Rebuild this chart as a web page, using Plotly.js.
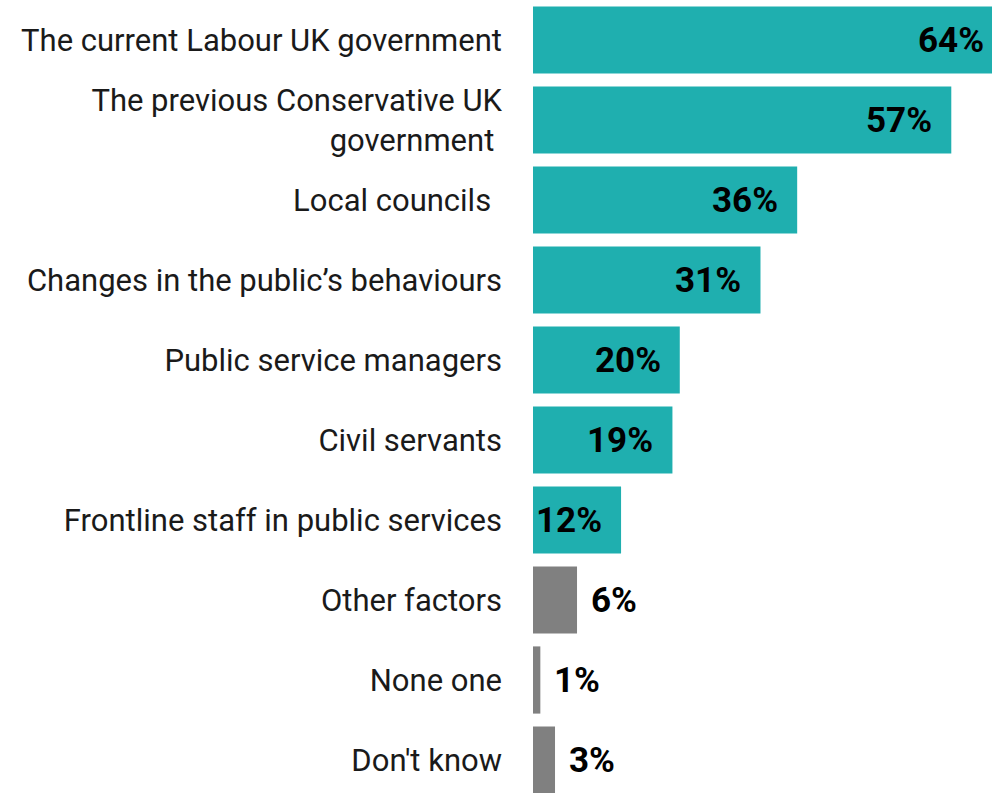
<!DOCTYPE html>
<html>
<head>
<meta charset="utf-8">
<script src="https://cdn.plot.ly/plotly-3.0.1.min.js"></script>
<style>
html,body{margin:0;padding:0;overflow:hidden;background:#fff;}
#chart{width:1010px;height:793px;}
</style>
</head>
<body>
<div id="chart"></div>
<script>
const categories = [
  "The current Labour UK government",
  "The previous Conservative UK<br>government\u00a0",
  "Local councils\u00a0\u200a",
  "Changes in the public\u2019s behaviours",
  "Public service managers",
  "Civil servants",
  "Frontline staff in public services",
  "Other factors",
  "None one",
  "Don't know"
];
const values = [64, 57, 36, 31, 20, 19, 12, 6, 1, 3];
const valueLabels = ["64%", "57%", "36%", "31%", "20%", "19%", "12%", "6%", "1%", "3%"];
const groups = ["main","main","main","main","main","main","main","other","other","other"];

const TEAL = "#1FAFAF";
const GREY = "#808080";
const colors = groups.map(g => g === "main" ? TEAL : GREY);

const trace = {
  type: "bar",
  orientation: "h",
  y: categories,
  x: values,
  marker: {color: colors, line: {width: 0}},
  hoverinfo: "skip"
};

const annotations = values.map((v, i) => {
  const inside = groups[i] === "main";
  return {
    x: v, y: categories[i], xref: "x", yref: "y",
    text: valueLabels[i], showarrow: false,
    xanchor: inside ? "right" : "left",
    xshift: inside ? -17 : 12,
    yanchor: "middle",
    font: {family: "Roboto, sans-serif", size: 35, color: "#000", weight: 700}
  };
});

const layout = {
  width: 1010, height: 793,
  margin: {l: 533, r: 0, t: 0, b: 0, pad: 0},
  paper_bgcolor: "#fff", plot_bgcolor: "#fff",
  showlegend: false,
  bargap: 0.16,
  xaxis: {range: [0, 65], visible: false, fixedrange: true},
  yaxis: {
    type: "category",
    range: [9.4125, -0.5],
    showgrid: false, zeroline: false, showline: false,
    ticks: "",
    ticklabelstandoff: 30,
    tickfont: {family: "Roboto, sans-serif", size: 31, color: "#1a1a1a"},
    fixedrange: true
  },
  annotations: annotations
};

Plotly.newPlot("chart", [trace], layout, {displayModeBar: false, staticPlot: true});
</script>
</body>
</html>
